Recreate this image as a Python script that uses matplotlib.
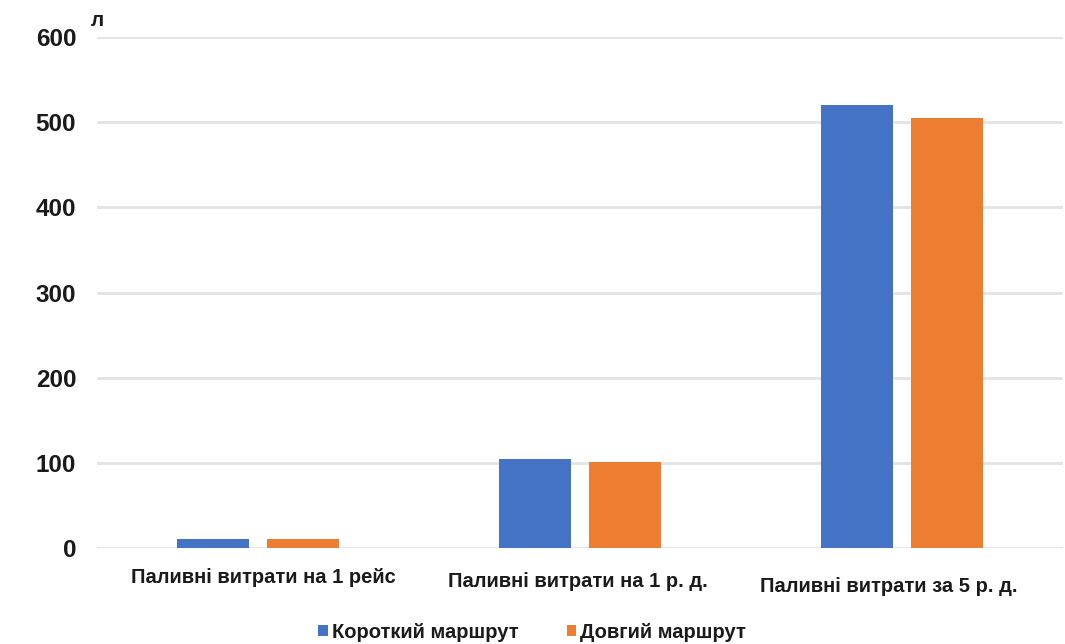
import matplotlib
matplotlib.use("Agg")
import matplotlib.pyplot as plt
import matplotlib.transforms as mtransforms
import numpy as np

plt.rcParams['font.family'] = ['Liberation Sans', 'DejaVu Sans']

categories = ["Паливні витрати на 1 рейс", "Паливні витрати на 1 р. д.", "Паливні витрати за 5 р. д."]
series_names = ["Короткий маршрут", "Довгий маршрут"]
short_route = [10.4, 104, 520]
long_route = [10.1, 101, 505]
y_ticks = [0, 100, 200, 300, 400, 500, 600]
unit_label = "л"

colors = ["#4472C4", "#ED7D31"]

fig = plt.figure(figsize=(10.65, 6.44), dpi=100)
ax = fig.add_axes([97 / 1065, 1 - 548 / 644, (1063 - 97) / 1065, (548 - 37) / 644])

x = np.arange(len(categories))
width = 0.223
offset = 0.141
ax.bar(x - offset, short_route, width, color=colors[0], label=series_names[0], zorder=3)
ax.bar(x + offset, long_route, width, color=colors[1], label=series_names[1], zorder=3)

ax.set_xlim(-0.5, len(categories) - 0.5)
ax.set_ylim(0, 600)
ax.set_yticks(y_ticks)
ax.set_yticklabels([str(v) for v in y_ticks], fontsize=17.5, fontweight='bold', color='#1a1a1a')
ax.tick_params(axis='y', length=0, pad=15)
ax.set_xticks([])
ax.grid(axis='y', color='#e3e3e3', linewidth=2, zorder=0)
for s in ax.spines.values():
    s.set_visible(False)

# category labels sit at slightly staggered heights below the axis
label_dx = [0.017, -0.008, -0.04]
label_dy = [-0.058, -0.066, -0.075]
trans = mtransforms.blended_transform_factory(ax.transData, ax.transAxes)
for i, cat in enumerate(categories):
    ax.text(x[i] + label_dx[i], label_dy[i], cat, transform=trans, ha='center', va='center',
            fontsize=14.5, fontweight='bold', color='#1a1a1a')

fig.text(91 / 1065, 1 - 20 / 644, unit_label, fontsize=15, fontweight='bold',
         ha='left', va='center', color='#1a1a1a')

leg = fig.legend(loc='center', bbox_to_anchor=(532 / 1065, 1 - 632 / 644), ncol=2, frameon=False,
                 prop={'weight': 'bold', 'size': 14.5}, handlelength=0.45, handleheight=0.45,
                 handletextpad=0.2, columnspacing=2.4)
for t in leg.get_texts():
    t.set_color('#1a1a1a')

fig.savefig("out.png", dpi=100, facecolor='white')
